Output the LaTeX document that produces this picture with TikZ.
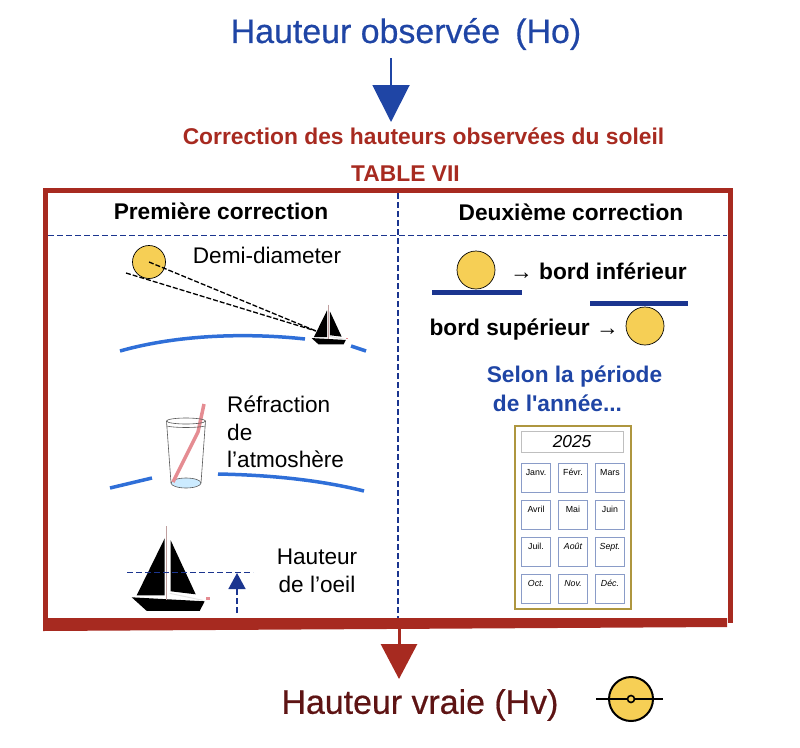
\documentclass[tikz,border=0pt]{standalone}
\usepackage{fontspec}
\setmainfont[Ligatures=TeXOff]{Liberation Sans}
\newfontfamily\heavyfont[FakeBold=0.5]{Liberation Sans}
\usetikzlibrary{arrows.meta}

\definecolor{framered}{HTML}{A72A20}
\definecolor{darkwine}{HTML}{5E1414}
\definecolor{titleblue}{HTML}{1F45A5}
\definecolor{navy}{HTML}{1B358F}
\definecolor{skyblue}{HTML}{2F6FD8}
\definecolor{sunyellow}{HTML}{F6CF55}
\definecolor{gold}{HTML}{AE963F}
\definecolor{straw}{HTML}{E58C92}
\definecolor{cellblue}{HTML}{8A9CC8}

\newcommand{\fs}[1]{\fontsize{#1}{#1}\selectfont}

\begin{document}
\begin{tikzpicture}[x=1pt,y=-1pt]
      \tikzset{
        every node/.style={inner sep=0pt},
        sun/.style={circle,draw=black,fill=sunyellow,line width=0.7pt,minimum size=38pt},
        heading/.style={font=\fs{22.7}\bfseries},
        plain/.style={font=\fs{22.6}},
        horizon/.style={skyblue,line width=3.5pt},
        rule/.style={navy,line width=1.5pt,dash pattern=on 6pt off 3pt},
        bar/.style={navy,line width=5pt},
        cell/.style={draw=cellblue,line width=1pt,minimum size=29pt,text height=8pt,text depth=13pt,font=\fs{8.8}},
        cellit/.style={cell,font=\fs{8.8}\itshape},
        boat/.pic={
          \fill[black] (-2,-61) -- (-2,-4) -- (-30,-4) -- cycle;
          \fill[black] (4,-59) -- (29,-5) -- (4,-8) -- cycle;
          \fill[black] (-35,-2) -- (38,2) -- (33,11.6) -- (-20,11.6) -- cycle;
          \draw[gray!50!pink,line width=1pt] (0,-73) -- (0,1);
          \draw[gray!20,line width=1pt] (3,-6) -- (36,1);
          \fill[straw] (39,-2) rectangle (43,1);
        }
      }

      \useasboundingbox (0,0) rectangle (800,747);

      \node[font=\fs{33.9}\heavyfont,text=titleblue] (ho) at (406,34) {Hauteur observée\, (Ho)};
      \node[font=\fs{22.8}\bfseries,text=framered] (title) at (423.5,136.5) {Correction des hauteurs observées du soleil};
      \node[font=\fs{22.8}\bfseries,text=framered] (table) at (405.5,174) {TABLE VII};
      \node[font=\fs{33.9}\heavyfont,text=darkwine] (hv) at (420,705) {Hauteur vraie (Hv)};

      \coordinate (hotop) at (391,58);
      \coordinate (hotip) at (391,122);
      \draw[titleblue,line width=2pt,-{Triangle[length=37pt,width=37pt]}] (hotop) -- (hotip);

      \draw[framered,line width=5pt] (45.5,624) -- (45.5,190.5) -- (730,190.5) -- (730,623);
      \fill[framered] (43,618) -- (727,618) -- (727,627) -- (43,631) -- cycle;

      \coordinate (hvtop) at (399,627);
      \coordinate (hvtip) at (399,679);
      \draw[framered,line width=3pt,-{Triangle[length=35pt,width=36pt]}] (hvtop) -- (hvtip);

      \draw[rule] (48,235.5) -- (727,235.5);
      \draw[rule] (398,193) -- (398,618);

      \node[heading] (first) at (221,211) {Première correction};
      \node[heading] (second) at (571,212) {Deuxième correction};

      \draw[horizon] (120,351) .. controls (180,334) and (250,333) .. (305,339);
      \draw[horizon] (351,346) -- (366,351);
      \node[sun,minimum size=33pt] (sunone) at (149,262) {};
      \coordinate (lowray) at (126,273);
      \coordinate (boatray) at (316,331);
      \draw[black,line width=1.3pt,dash pattern=on 5pt off 2pt] (sunone.center) -- (boatray);
      \draw[black,line width=1.3pt,dash pattern=on 5pt off 2pt] (lowray) -- (boatray);
      \pic[scale=0.47] (smallboat) at (328,339) {boat};
      \node[plain] (demi) at (267,255) {Demi-diameter};

      \draw[horizon] (110,488) -- (152,478);
      \draw[horizon] (218,474) .. controls (270,475) and (320,480) .. (364,491);
      \fill[blue!40!cyan!20] (186,483) ellipse (15 and 5);
      \draw[gray!70!black,line width=0.6pt] (186,483) ellipse (15 and 5);
      \draw[straw,line width=3.5pt] (204,404) -- (198,432) -- (173,482);
      \draw[gray!70!black,line width=0.6pt] (186,421) ellipse (19.5 and 3);
      \draw[gray!70!black,line width=0.6pt] (166.5,426) .. controls (175,428) and (197,428) .. (205.5,426);
      \draw[gray!70!black,line width=0.6pt] (166.5,421) -- (171,483);
      \draw[gray!70!black,line width=0.6pt] (205.5,421) -- (201,483);
      \node[align=left,anchor=west,font=\fontsize{22.6}{27.5}\selectfont] (refr) at (227,432) {Réfraction\\de\\l’atmoshère};

      \pic (bigboat) at (166.7,599.3) {boat};
      \node[align=center,font=\fontsize{22.6}{28}\selectfont] (oeil) at (317,571) {Hauteur\\de l’oeil};
      \draw[rule] (127,572.7) -- (253,572.7);
      \coordinate (eyefoot) at (237,613);
      \coordinate (eyetip) at (237,573);
      \draw[rule,-{Triangle[length=16pt,width=17pt,sep=0pt]}] (eyefoot) -- (eyetip);

      \node[sun] (suninf) at (476,270) {};
      \draw[bar] (432,292) -- (522,292);
      \node[heading,anchor=west] (inf) at (510,271) {→ bord inférieur};
      \node[sun] (sunsup) at (645,326) {};
      \draw[bar] (590,303) -- (688,303);
      \node[heading,anchor=east] (sup) at (619,330) {bord supérieur →};

      \node[heading,text=titleblue] (selon) at (574.5,377) {Selon la période};
      \node[heading,text=titleblue] (annee) at (557.5,403) {de l'année...};

      \draw[gold,line width=2.5pt] (515,426) rectangle (631,609);
      \node[draw=gray!50,line width=1pt,minimum width=102pt,minimum height=21pt,font=\fs{17.3}\itshape] (year) at (572,441.5) {2025};

      \tikzset{node distance=37pt}
      \node[cell] (jan) at (536,478) {Janv.};
      \node[cell,right of=jan] (feb) {Févr.};
      \node[cell,right of=feb] (mar) {Mars};
      \node[cell,below of=jan] (apr) {Avril};
      \node[cell,right of=apr] (may) {Mai};
      \node[cell,right of=may] (jun) {Juin};
      \node[cell,below of=apr] (jul) {Juil.};
      \node[cellit,right of=jul] (aug) {Août};
      \node[cellit,right of=aug] (sep) {Sept.};
      \node[cellit,below of=jul] (oct) {Oct.};
      \node[cellit,right of=oct] (nov) {Nov.};
      \node[cellit,right of=nov] (dec) {Déc.};

      \coordinate (symleft) at (596,699);
      \coordinate (symright) at (663,699);
      \node[circle,draw=black,fill=sunyellow,line width=2pt,minimum size=44pt] (symbol) at (631,699) {};
      \draw[black,line width=2pt] (symleft) -- (symright);
      \node[circle,draw=black,fill=sunyellow,line width=1.6pt,minimum size=7pt] (symdot) at (631,699) {};
    \end{tikzpicture}
\end{document}
